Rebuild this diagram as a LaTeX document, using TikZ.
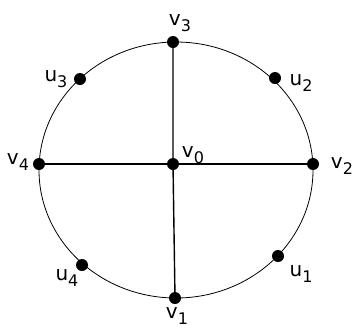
\documentclass[tikz,border=0pt]{standalone}
\usepackage{fontspec}
\usepackage{graphicx}
\setmainfont{DejaVu Sans}
\usetikzlibrary{backgrounds}
\newcommand\glab[2]{{\fontsize{20}{24}\selectfont #1\raisebox{-6pt}{\fontsize{16}{19}\selectfont #2}}}
\begin{document}
\begin{tikzpicture}[x=1pt,y=-1pt,
  vdot/.style={circle,fill=black,inner sep=0pt,minimum size=12pt},
  glabel/.style={inner sep=0pt,anchor=center},
  rim/.style={line width=0.8pt},
  spoke/.style={line width=1.4pt}]
\useasboundingbox (0,0) rectangle (353,333);
\coordinate (c) at (176,170);
% vertices
\node[vdot] (v0) at (173,164) {};
\node[vdot] (v1) at (175,298) {};
\node[vdot] (v2) at (313,164) {};
\node[vdot] (v3) at (173,42) {};
\node[vdot] (v4) at (39,164) {};
\node[vdot] (u1) at (278,256) {};
\node[vdot] (u2) at (275,78) {};
\node[vdot] (u3) at (80,79) {};
\node[vdot] (u4) at (82,265) {};
% edges
\begin{scope}[on background layer]
\draw[rim] (c) ellipse [x radius=137, y radius=128];
\draw[spoke] (v4.center) -- (v0.center) -- (v2.center);
\draw[spoke] (v3.center) -- (v0.center) -- (v1.center);
\end{scope}
% labels
\node[glabel] (lv3) at (180,23) {\glab{v}{3}};
\node[glabel] (lu3) at (56,79) {\glab{u}{3}};
\node[glabel] (lu2) at (301,83) {\glab{u}{2}};
\node[glabel] (lv4) at (18,162) {\glab{v}{4}};
\node[glabel] (lv0) at (193,155) {\glab{v}{0}};
\node[glabel] (lv2) at (342,166) {\glab{v}{2}};
\node[glabel] (lu4) at (67,278) {\glab{u}{4}};
\node[glabel] (lu1) at (301,274) {\glab{u}{1}};
\node[glabel] (lv1) at (177,316) {\glab{v}{1}};
\end{tikzpicture}
\end{document}
